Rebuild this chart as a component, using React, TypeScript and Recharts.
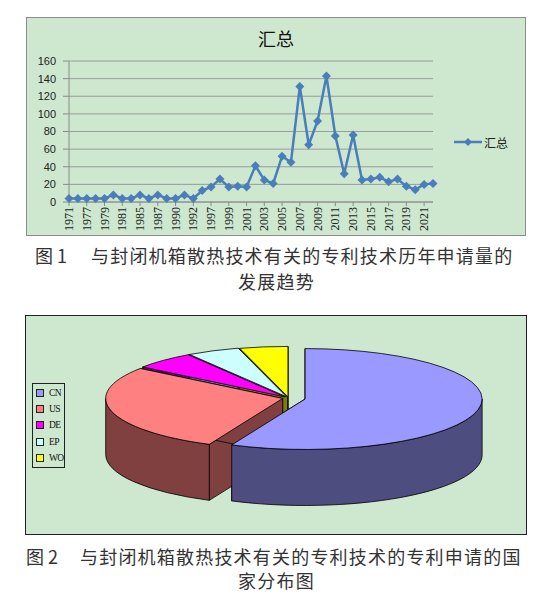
import React from 'react';
import { LineChart, Line, XAxis, YAxis, CartesianGrid, Legend, PieChart, Pie } from 'recharts';

// ---- data: yearly filing counts (figure 1) ----
const years = [
  '1971', '1976', '1977', '1978', '1979', '1980', '1981', '1984', '1985', '1986',
  '1987', '1989', '1990', '1991', '1992', '1996', '1997', '1998', '1999', '2000',
  '2001', '2002', '2003', '2004', '2005', '2006', '2007', '2008', '2009', '2010',
  '2011', '2012', '2013', '2014', '2015', '2016', '2017', '2018', '2019', '2020',
  '2021', '2022',
];
const totals = [
  4, 4, 4, 4, 4, 8, 4, 4, 8, 4,
  8, 4, 4, 8, 4, 13, 17, 26, 17, 18,
  17, 41, 25, 21, 52, 45, 131, 65, 92, 143,
  75, 32, 76, 25, 26, 28, 23, 26, 18, 14,
  20, 21,
];
const yTicks = [0, 20, 40, 60, 80, 100, 120, 140, 160];
const seriesName = '汇总';

// ---- data: filings by country (figure 2) ----
const countries = ['CN', 'US', 'DE', 'EP', 'WO'];
const countryCounts = [672, 335, 67, 57, 52];

// styles
const BG = '#cde8cf';
const LINE_BLUE = '#4a7ebb';
const topColors = ['#9999ff', '#ff8080', '#ff00ff', '#ccffff', '#ffff00'];
const sideColors = ['#4d4d80', '#804040', '#800080', '#668080', '#808000'];
const explode = [17, 6, 5, 5, 4];
const TILT = 0.285;
const DEPTH = 56;
const RAD = Math.PI / 180;

const lineData = years.map((year, i) => ({ year, total: totals[i] }));
const pieData = countries.map((name, i) => ({ name, value: countryCounts[i] }));

const Diamond = (props: any) => {
  const { cx, cy, index } = props;
  if (cx == null || cy == null) return <g key={index} />;
  const s = 4.5;
  return (
    <polygon
      key={index}
      points={`${cx},${cy - s} ${cx + s},${cy} ${cx},${cy + s} ${cx - s},${cy}`}
      fill={LINE_BLUE}
    />
  );
};

const YearTick = (props: any) => {
  const { x, y, payload } = props;
  return (
    <text
      transform={`translate(${x},${y - 1}) rotate(-90)`}
      textAnchor="end"
      dominantBaseline="central"
      fontSize={12}
      fontFamily="'Liberation Serif', serif"
      fill="#222"
    >
      {payload.value}
    </text>
  );
};

const LineLegend = () => (
  <div style={{ display: 'flex', alignItems: 'center', height: 14 }}>
    <svg width={30} height={14}>
      <line x1={0} x2={28} y1={7} y2={7} stroke={LINE_BLUE} strokeWidth={2.5} />
      <polygon points="14,3 18,7 14,11 10,7" fill={LINE_BLUE} />
    </svg>
    <span style={{ fontSize: 12, fontFamily: "'Noto Sans CJK SC', sans-serif", color: '#222' }}>
      {seriesName}
    </span>
  </div>
);

// ---- 3D pie helpers ----
const pt = (cx: number, cy: number, r: number, a: number) => [
  cx + r * Math.cos(a * RAD),
  cy - r * TILT * Math.sin(a * RAD),
];

const geom = (p: any) => {
  const { cx, cy, outerRadius: r, startAngle: s, endAngle: e, index } = p;
  const mid = (s + e) / 2;
  const d = explode[index] || 0;
  return {
    ox: cx + d * Math.cos(mid * RAD),
    oy: cy - d * TILT * Math.sin(mid * RAD),
    r, s, e, index,
    back: Math.sin(mid * RAD) > 0,
  };
};

// radial cut faces; back slices are painted first, front slices over them
const faceLayer = (wantBack: boolean) => (p: any) => {
  const { ox, oy, r, s, e, index, back } = geom(p);
  if (back !== wantBack) return <g key={`f${index}`} />;
  return (
    <g key={`f${index}`}>
      {[s, e].map((a, k) => {
        const [x, y] = pt(ox, oy, r, a);
        return (
          <polygon
            key={k}
            points={`${ox},${oy} ${x},${y} ${x},${y + DEPTH} ${ox},${oy + DEPTH}`}
            fill={sideColors[index]}
            stroke="#000"
            strokeWidth={0.8}
            strokeLinejoin="round"
          />
        );
      })}
    </g>
  );
};

const wallLayer = (p: any) => {
  const { ox, oy, r, s, e, index } = geom(p);
  const ry = r * TILT;
  const parts: React.ReactNode[] = [];
  [-1, 0, 1].forEach((k) => {
    const hi = k * 360;
    const lo = hi - 180;
    const a1 = Math.min(s, hi);
    const a2 = Math.max(e, lo);
    if (a1 > a2 + 0.01) {
      const [x1, y1] = pt(ox, oy, r, a1);
      const [x2, y2] = pt(ox, oy, r, a2);
      parts.push(
        <path
          key={k}
          d={`M${x1},${y1} A${r},${ry} 0 0 1 ${x2},${y2} L${x2},${y2 + DEPTH} A${r},${ry} 0 0 0 ${x1},${y1 + DEPTH} Z`}
          fill={sideColors[index]}
          stroke="#000"
          strokeWidth={0.8}
          strokeLinejoin="round"
        />
      );
    }
  });
  return <g key={`w${index}`}>{parts}</g>;
};

const topLayer = (p: any) => {
  const { ox, oy, r, s, e, index } = geom(p);
  const [x1, y1] = pt(ox, oy, r, s);
  const [x2, y2] = pt(ox, oy, r, e);
  const large = Math.abs(s - e) > 180 ? 1 : 0;
  const sweep = s > e ? 1 : 0;
  return (
    <path
      key={`t${index}`}
      d={`M${ox},${oy} L${x1},${y1} A${r},${r * TILT} 0 ${large} ${sweep} ${x2},${y2} Z`}
      fill={topColors[index]}
      stroke="#000"
      strokeWidth={0.8}
      strokeLinejoin="round"
    />
  );
};

const PieLegend = () => (
  <div
    style={{
      width: 33,
      boxSizing: 'border-box',
      border: '1px solid #222',
      background: BG,
      padding: '1px 0',
      fontFamily: "'Liberation Serif', serif",
      fontSize: 9.5,
      lineHeight: '12px',
      color: '#111',
      overflow: 'hidden',
    }}
  >
    {countries.map((c, i) => (
      <div key={c} style={{ display: 'flex', alignItems: 'center', height: 16.2 }}>
        <span
          style={{
            display: 'inline-block',
            flexShrink: 0,
            width: 6,
            height: 6,
            marginLeft: 3,
            border: '1px solid #222',
            background: topColors[i],
          }}
        />
        <span style={{ marginLeft: 5, letterSpacing: -0.6, whiteSpace: 'nowrap' }}>{c}</span>
      </div>
    ))}
  </div>
);

const captionStyle: React.CSSProperties = {
  position: 'absolute',
  fontFamily: "'Noto Sans CJK SC', sans-serif",
  fontSize: 18,
  lineHeight: '22px',
  color: '#333',
  whiteSpace: 'nowrap',
};

const pieCommon = {
  data: pieData,
  dataKey: 'value',
  nameKey: 'name',
  cx: 262.5,
  cy: 82,
  outerRadius: 177,
  startAngle: 90,
  endAngle: -270,
  fill: 'none',
  stroke: 'none',
  legendType: 'none' as const,
  labelLine: false,
  isAnimationActive: false,
};

export default function App() {
  return (
    <div style={{ position: 'absolute', left: 0, top: 0, width: 553, height: 597, background: '#fff' }}>
      {/* figure 1 */}
      <div
        style={{
          position: 'absolute', left: 26, top: 17, width: 500, height: 219,
          boxSizing: 'border-box', border: '1px solid #8c8c8c', background: BG,
        }}
      >
        <div
          style={{
            position: 'absolute', left: 0, top: 9, width: 498, textAlign: 'center',
            fontFamily: "'Noto Sans CJK SC', sans-serif", fontSize: 18, lineHeight: '22px', color: '#111',
          }}
        >
          {seriesName}
        </div>
        <LineChart width={498} height={217} data={lineData} margin={{ top: 43, right: 92, bottom: 0, left: 0 }}>
          <CartesianGrid vertical={false} stroke="#8a8a8a" strokeWidth={0.8} />
          <XAxis
            dataKey="year"
            interval={1}
            height={33}
            tick={<YearTick />}
            tickSize={4}
            axisLine={{ stroke: '#8a8a8a' }}
            tickLine={{ stroke: '#8a8a8a' }}
          />
          <YAxis
            width={42}
            domain={[0, 160]}
            ticks={yTicks}
            interval={0}
            tickSize={6}
            tickMargin={7}
            axisLine={{ stroke: '#8a8a8a' }}
            tickLine={{ stroke: '#8a8a8a' }}
            tick={{ fontSize: 11, fontFamily: "'Liberation Sans', Arial, sans-serif", fill: '#222' }}
          />
          <Line
            type="linear"
            dataKey="total"
            name={seriesName}
            stroke={LINE_BLUE}
            strokeWidth={2.5}
            dot={(p: any) => <Diamond key={p.index} {...p} />}
            activeDot={false}
            isAnimationActive={false}
          />
          <Legend
            layout="horizontal"
            align="center"
            verticalAlign="middle"
            content={<LineLegend />}
            wrapperStyle={{ left: 427, top: 117, width: 90 }}
          />
        </LineChart>
      </div>
      <div style={{ ...captionStyle, left: 35, top: 244 }}>图 1</div>
      <div style={{ ...captionStyle, left: 91, top: 244, letterSpacing: 1.2 }}>
        与封闭机箱散热技术有关的专利技术历年申请量的
      </div>
      <div style={{ ...captionStyle, left: 0, width: 553, top: 270, textAlign: 'center', letterSpacing: 1.2 }}>
        发展趋势
      </div>

      {/* figure 2 */}
      <div
        style={{
          position: 'absolute', left: 25, top: 315, width: 502, height: 220,
          boxSizing: 'border-box', border: '1px solid #222', background: BG,
        }}
      >
        <PieChart width={500} height={218} margin={{ top: 0, right: 0, bottom: 0, left: 0 }}>
          <Pie {...pieCommon} label={faceLayer(true)} />
          <Pie {...pieCommon} label={faceLayer(false)} />
          <Pie {...pieCommon} label={wallLayer} />
          <Pie {...pieCommon} label={topLayer} />
          <Legend
            layout="horizontal"
            align="center"
            verticalAlign="middle"
            content={<PieLegend />}
            wrapperStyle={{ left: 6, top: 67, width: 33 }}
          />
        </PieChart>
      </div>
      <div style={{ ...captionStyle, left: 26, top: 545 }}>图 2</div>
      <div style={{ ...captionStyle, left: 80, top: 545, letterSpacing: 1.2 }}>
        与封闭机箱散热技术有关的专利技术的专利申请的国
      </div>
      <div style={{ ...captionStyle, left: 0, width: 553, top: 569, textAlign: 'center', letterSpacing: 1.2 }}>
        家分布图
      </div>
    </div>
  );
}
